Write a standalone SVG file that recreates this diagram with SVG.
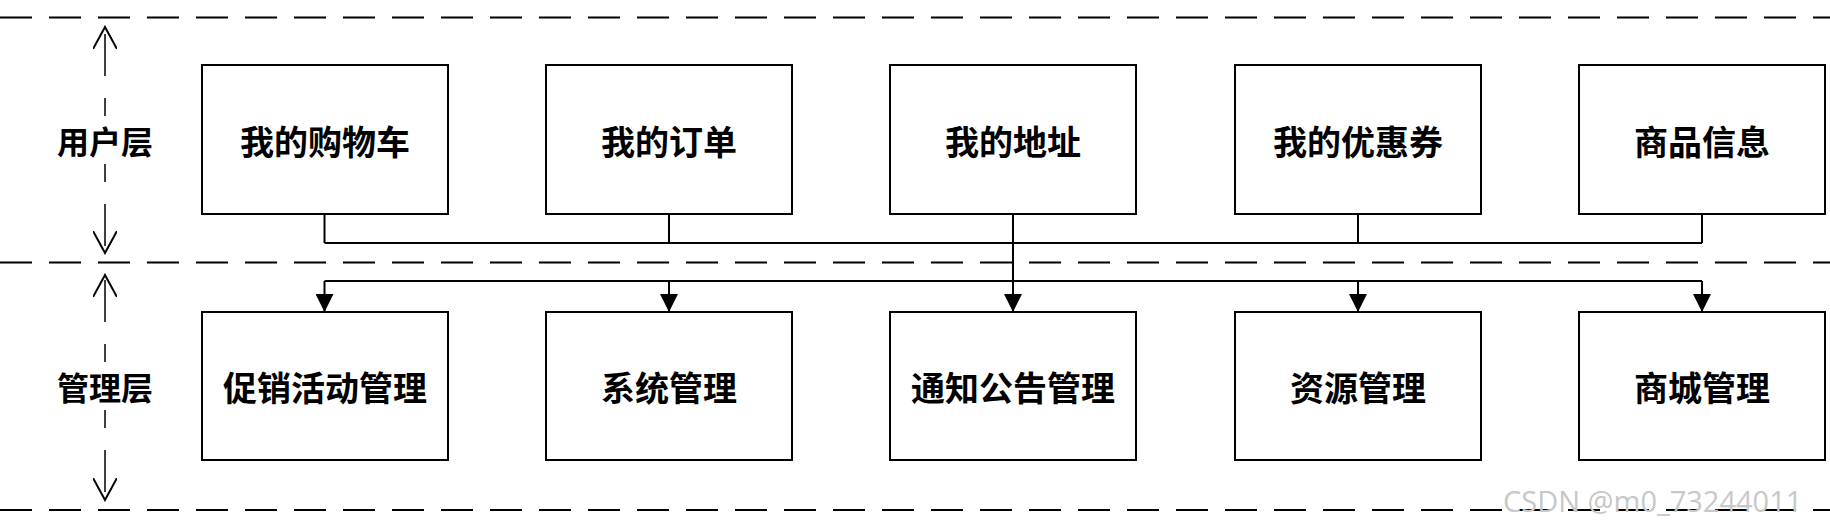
<svg xmlns="http://www.w3.org/2000/svg" width="1830" height="525" viewBox="0 0 1830 525">
<style>
.sep{stroke:#000;stroke-width:2;stroke-dasharray:32 17;fill:none}
.va{stroke:#000;stroke-width:1.5;stroke-dasharray:42 22;fill:none}
.box{fill:#fff;stroke:#000;stroke-width:2}
.t{font-family:"Noto Sans CJK SC",sans-serif;font-weight:bold;font-size:34px;text-anchor:middle;dominant-baseline:central;fill:#000}
.l{font-family:"Noto Sans CJK SC",sans-serif;font-weight:bold;font-size:32px;text-anchor:middle;dominant-baseline:central;fill:#000}
.c{stroke:#000;stroke-width:2;fill:none}
</style>
<defs>
<marker id="big" viewBox="0 0 10 10" refX="10" refY="5" markerWidth="20" markerHeight="18" markerUnits="userSpaceOnUse" orient="auto"><path d="M0,0L10,5L0,10z" fill="#000"/></marker>
<marker id="open" viewBox="0 0 12 12" refX="11" refY="6" markerWidth="24" markerHeight="24" markerUnits="userSpaceOnUse" orient="auto"><path d="M0,0L11,6L0,12" fill="none" stroke="#000" stroke-width="1"/></marker>
</defs>
<g id="layers">
<line class="sep" x1="0" y1="17.5" x2="1830" y2="17.5"/>
<line class="sep" x1="0" y1="262.5" x2="1830" y2="262.5"/>
<line class="sep" x1="0" y1="510" x2="1830" y2="510"/>
<line class="va" x1="105" y1="140" x2="105" y2="27" marker-end="url(#open)"/>
<line class="va" x1="105" y1="140" x2="105" y2="253" marker-end="url(#open)"/>
<line class="va" x1="105" y1="386" x2="105" y2="275" marker-end="url(#open)"/>
<line class="va" x1="105" y1="386" x2="105" y2="500" marker-end="url(#open)"/>
<rect x="55" y="116" width="100" height="48" fill="#fff"/>
<rect x="55" y="362" width="100" height="48" fill="#fff"/>
<text class="l" x="105" y="140">用户层</text>
<text class="l" x="105" y="386">管理层</text>
</g>
<g id="connectors">
<path class="c" d="M324.5,214V243M669,214V243M1013,214V243M1358,214V243M1702,214V243M324.5,243H1702"/>
<path class="c" d="M1013,243V312" marker-end="url(#big)"/>
<path class="c" d="M324.5,281H1702"/>
<path class="c" d="M324.5,281V312" marker-end="url(#big)"/>
<path class="c" d="M669,281V312" marker-end="url(#big)"/>
<path class="c" d="M1358,281V312" marker-end="url(#big)"/>
<path class="c" d="M1702,281V312" marker-end="url(#big)"/>
</g>
<g id="n1"><rect class="box" x="202" y="65" width="246" height="149"/><text class="t" x="325" y="140">我的购物车</text></g>
<g id="n2"><rect class="box" x="546" y="65" width="246" height="149"/><text class="t" x="669" y="140">我的订单</text></g>
<g id="n3"><rect class="box" x="890" y="65" width="246" height="149"/><text class="t" x="1013" y="140">我的地址</text></g>
<g id="n4"><rect class="box" x="1235" y="65" width="246" height="149"/><text class="t" x="1358" y="140">我的优惠券</text></g>
<g id="n5"><rect class="box" x="1579" y="65" width="246" height="149"/><text class="t" x="1702" y="140">商品信息</text></g>
<g id="m1"><rect class="box" x="202" y="312" width="246" height="148"/><text class="t" x="325" y="386">促销活动管理</text></g>
<g id="m2"><rect class="box" x="546" y="312" width="246" height="148"/><text class="t" x="669" y="386">系统管理</text></g>
<g id="m3"><rect class="box" x="890" y="312" width="246" height="148"/><text class="t" x="1013" y="386">通知公告管理</text></g>
<g id="m4"><rect class="box" x="1235" y="312" width="246" height="148"/><text class="t" x="1358" y="386">资源管理</text></g>
<g id="m5"><rect class="box" x="1579" y="312" width="246" height="148"/><text class="t" x="1702" y="386">商城管理</text></g>
<text x="1503" y="512" font-family="'Open Sans',sans-serif" font-size="29" fill="#c8c8c8">CSDN @m0_73244011</text>
</svg>
